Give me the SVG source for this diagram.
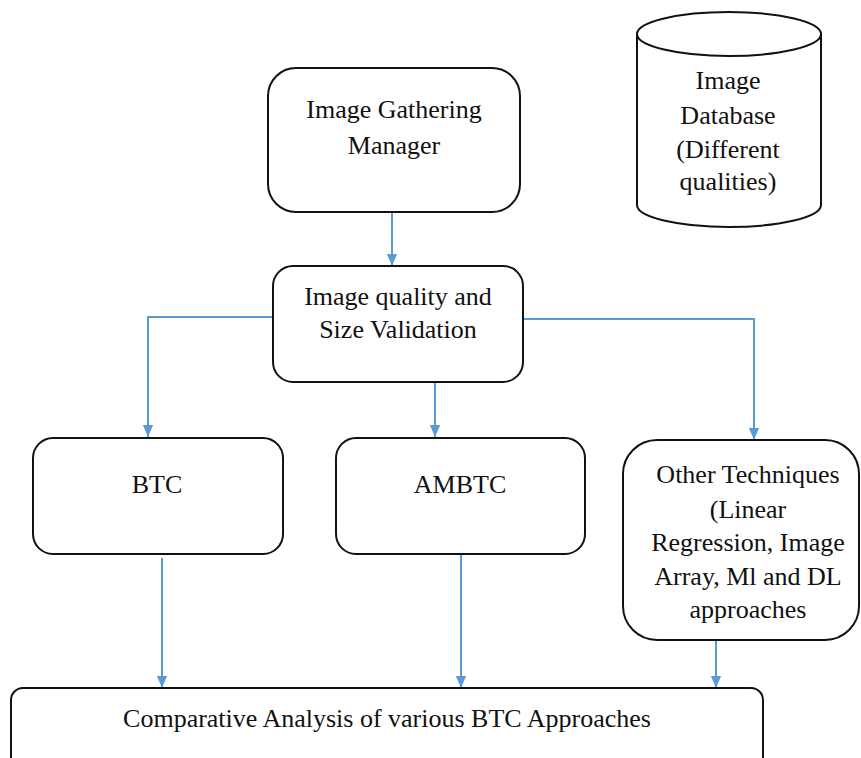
<svg xmlns="http://www.w3.org/2000/svg" width="861" height="758" viewBox="0 0 861 758">
<style>
.box{fill:#fff;stroke:#111;stroke-width:2}
.t{font-family:"Liberation Serif","Times New Roman",serif;font-size:26px;fill:#111;text-anchor:middle}
.c{fill:none;stroke:#5b9bd5;stroke-width:2}
</style>
<defs>
<marker id="a" markerWidth="12" markerHeight="14" refX="14" refY="6" orient="auto" markerUnits="userSpaceOnUse" viewBox="0 0 14 12">
<path d="M0,0 L14,6 L0,12 z" fill="#5b9bd5"/>
</marker>
</defs>
<rect width="861" height="758" fill="#fff"/>
<g id="connectors">
<path class="c" d="M392,213 V266" marker-end="url(#a)"/>
<path class="c" d="M273,317 H148 V437" marker-end="url(#a)"/>
<path class="c" d="M435,383 V437" marker-end="url(#a)"/>
<path class="c" d="M523,319 H754 V440" marker-end="url(#a)"/>
<path class="c" d="M162,558 V688" marker-end="url(#a)"/>
<path class="c" d="M461,555 V688" marker-end="url(#a)"/>
<path class="c" d="M716,637 V688" marker-end="url(#a)"/>
</g>
<g id="db">
<path class="box" d="M637,34 V205 A92,22 0 0 0 821,205 V34"/>
<ellipse class="box" cx="729" cy="34" rx="92" ry="22"/>
<text class="t" x="728" y="89">Image</text>
<text class="t" x="728" y="124">Database</text>
<text class="t" x="728" y="158">(Different</text>
<text class="t" x="728" y="190">qualities)</text>
</g>
<g id="gather">
<rect class="box" x="268" y="68" width="252" height="144" rx="28"/>
<text class="t" x="394" y="118">Image Gathering</text>
<text class="t" x="394" y="154">Manager</text>
</g>
<g id="validate">
<rect class="box" x="273" y="266" width="250" height="116" rx="20"/>
<text class="t" x="398" y="305">Image quality and</text>
<text class="t" x="398" y="338">Size Validation</text>
</g>
<g id="btc">
<rect class="box" x="33" y="438" width="250" height="116" rx="20"/>
<text class="t" x="157" y="493">BTC</text>
</g>
<g id="ambtc">
<rect class="box" x="336" y="438" width="249" height="116" rx="20"/>
<text class="t" x="460" y="493">AMBTC</text>
</g>
<g id="other">
<rect class="box" x="623" y="440" width="236" height="200" rx="34"/>
<text class="t" x="748" y="483">Other Techniques</text>
<text class="t" x="748" y="518">(Linear</text>
<text class="t" x="748" y="551">Regression, Image</text>
<text class="t" x="748" y="585">Array, Ml and DL</text>
<text class="t" x="748" y="618">approaches</text>
</g>
<g id="compare">
<rect class="box" x="11" y="688" width="752" height="90" rx="12"/>
<text class="t" x="387" y="727">Comparative Analysis of various BTC Approaches</text>
</g>
</svg>
